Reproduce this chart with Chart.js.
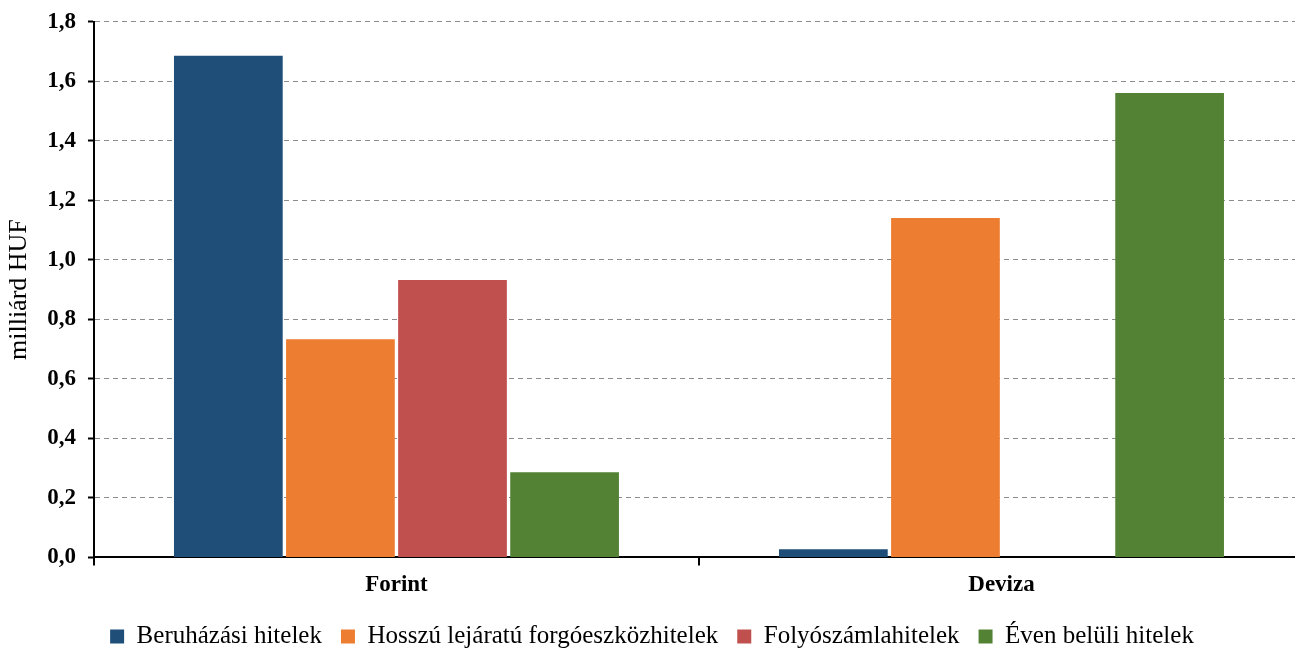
<!DOCTYPE html>
<html>
<head>
<meta charset="utf-8">
<script src="https://cdn.jsdelivr.net/npm/chart.js@4"></script>
<style>
  html, body { margin: 0; background: #fff; overflow: hidden; }
  #wrap { width: 1295px; height: 648px; overflow: hidden; }
  #chart { display: block; margin-top: -4px; }
</style>
</head>
<body>
<div id="wrap"><canvas id="chart" width="1304" height="652"></canvas></div>
<script>
const categories = ['Forint', 'Deviza'];
const beruhazasi = [1.686, 0.027];
const hosszu = [0.733, 1.141];
const folyoszamla = [0.932, 0];
const evenBelul = [0.286, 1.561];

const serif = 'Liberation Serif, Times New Roman, serif';

new Chart(document.getElementById('chart'), {
  type: 'bar',
  data: {
    labels: categories,
    datasets: [
      { label: 'Beruházási hitelek', data: beruhazasi, backgroundColor: '#1F4E79' },
      { label: 'Hosszú lejáratú forgóeszközhitelek', data: hosszu, backgroundColor: '#ED7D31' },
      { label: 'Folyószámlahitelek', data: folyoszamla, backgroundColor: '#C0504D' },
      { label: 'Éven belüli hitelek', data: evenBelul, backgroundColor: '#548235' }
    ]
  },
  options: {
    responsive: false,
    animation: false,
    categoryPercentage: 0.741,
    barPercentage: 0.97,
    layout: { padding: { top: 11, right: 0, left: 0, bottom: -11 } },
    plugins: {
      tooltip: { enabled: false },
      legend: {
        position: 'bottom',
        labels: {
          color: '#000',
          font: { family: serif, size: 25 },
          boxWidth: 14,
          boxHeight: 14,
          padding: 19
        }
      }
    },
    scales: {
      x: {
        grid: { drawOnChartArea: false, drawTicks: true, tickLength: 8, color: '#000', lineWidth: 2 },
        border: { color: '#000', width: 2 },
        ticks: { color: '#000', font: { family: serif, size: 23, weight: 'bold' }, padding: 6 }
      },
      y: {
        min: 0,
        max: 1.8,
        grid: { color: '#8c8c8c', lineWidth: 1, tickLength: 6, tickColor: '#000', tickWidth: 2, tickBorderDash: [] },
        border: { color: '#000', width: 2, dash: [5, 4] },
        ticks: {
          stepSize: 0.2,
          color: '#000',
          font: { family: serif, size: 23, weight: 'bold' },
          padding: 12,
          callback: v => v.toFixed(1).replace('.', ',')
        },
        title: {
          display: true,
          text: 'milliárd HUF',
          color: '#000',
          font: { family: serif, size: 26 },
          padding: { top: 4, bottom: 0 }
        }
      }
    }
  }
});
</script>
</body>
</html>
